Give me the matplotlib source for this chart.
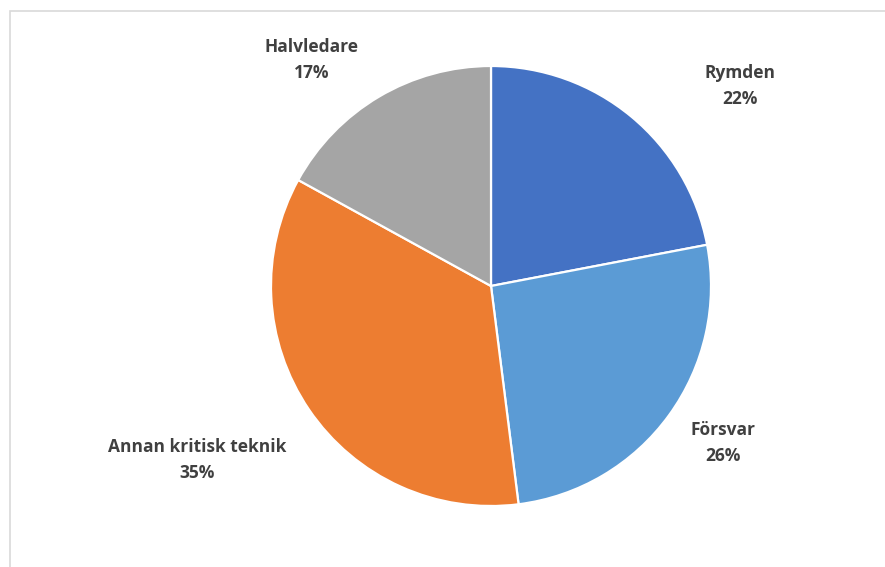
import matplotlib.pyplot as plt
from matplotlib.patches import Rectangle

labels = ["Rymden", "Försvar", "Annan kritisk teknik", "Halvledare"]
shares = [22, 26, 35, 17]
colors = ["#4472C4", "#5B9BD5", "#ED7D31", "#A5A5A5"]
# label anchor points in figure pixels (from top-left)
label_pos = [(740, 86), (723, 443), (197, 460), (312, 60)]

W, H = 885, 567
fig = plt.figure(figsize=(W / 100, H / 100), dpi=100)
ax = fig.add_axes([0, 0, 1, 1])
ax.set_xlim(0, W)
ax.set_ylim(0, H)
ax.set_aspect("equal")
ax.axis("off")

# chart frame, only the left and top edges fall inside the image
ax.add_patch(Rectangle((9.5, -20), W + 40, H - 10.5 + 20, fill=False,
                       edgecolor="#D9D9D9", linewidth=1.2))

ax.pie(shares, colors=colors, startangle=90, counterclock=False,
       center=(491, H - 286), radius=220,
       wedgeprops=dict(edgecolor="white", linewidth=1.6))
ax.set_xlim(0, W)
ax.set_ylim(0, H)

for name, val, (x, y) in zip(labels, shares, label_pos):
    ax.text(x, H - y, f"{name}\n{val}%", ha="center", va="center",
            fontsize=12.5, fontweight="bold", color="#404040",
            family="Open Sans", linespacing=1.6)

fig.savefig("out.png", dpi=100)
